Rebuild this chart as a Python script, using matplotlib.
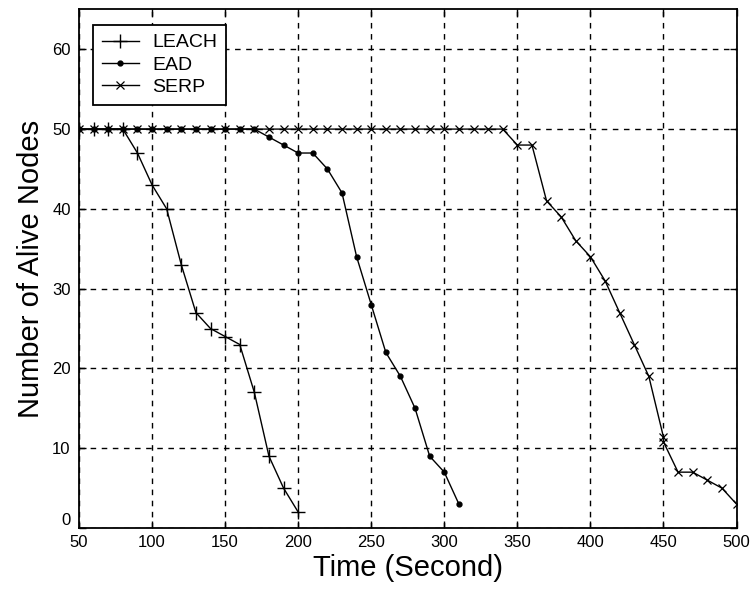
import matplotlib
matplotlib.use("Agg")
import matplotlib.pyplot as plt

plt.rcParams['font.family'] = ['Liberation Sans', 'DejaVu Sans']

leach_t = [50, 60, 70, 80, 90, 100, 110, 120, 130, 140, 150, 160, 170, 180, 190, 200]
leach_n = [50, 50, 50, 50, 47, 43, 40, 33, 27, 25, 24, 23, 17, 9, 5, 2]

ead_t = [50, 60, 70, 80, 90, 100, 110, 120, 130, 140, 150, 160, 170, 180, 190, 200,
         210, 220, 230, 240, 250, 260, 270, 280, 290, 300, 310]
ead_n = [50, 50, 50, 50, 50, 50, 50, 50, 50, 50, 50, 50, 50, 49, 48, 47,
         47, 45, 42, 34, 28, 22, 19, 15, 9, 7, 3]

serp_t = [50, 60, 70, 80, 90, 100, 110, 120, 130, 140, 150, 160, 170, 180, 190, 200,
          210, 220, 230, 240, 250, 260, 270, 280, 290, 300, 310, 320, 330, 340,
          350, 360, 370, 380, 390, 400, 410, 420, 430, 440, 450, 450, 460, 470,
          480, 490, 500]
serp_n = [50] * 30 + [48, 48, 41, 39, 36, 34, 31, 27, 23, 19, 11.4, 10.8, 7, 7,
                      6, 5, 3]

xticks = [50, 100, 150, 200, 250, 300, 350, 400, 450, 500]
yticks = [0, 10, 20, 30, 40, 50, 60]

fig = plt.figure(figsize=(7.51, 5.92), dpi=100)
ax = fig.add_axes([0.1052, 0.1081, 0.8755, 0.876])

ax.plot(leach_t, leach_n, color='black', lw=1.0, marker='+', markersize=10,
        markeredgewidth=1.0, label='LEACH')
ax.plot(ead_t, ead_n, color='black', lw=1.0, marker='.', markersize=7,
        label='EAD')
ax.plot(serp_t, serp_n, color='black', lw=1.0, marker='x', markersize=5.5,
        markeredgewidth=0.9, label='SERP')

ax.set_xlim(50, 500)
ax.set_ylim(0, 65)
ax.set_xticks(xticks)
ax.set_yticks(yticks)
ax.tick_params(direction='in', top=True, right=True, length=5, width=1,
               labelsize=12, colors='black')
ax.tick_params(axis='y', pad=6)
ax.tick_params(axis='x', pad=5)
ax.grid(True, color='black', linestyle=(0, (4, 4)), linewidth=1.0)
for s in ax.spines.values():
    s.set_linewidth(1.3)

ax.set_xlabel('Time (Second)', fontsize=21, labelpad=3)
ax.set_ylabel('Number of Alive Nodes', fontsize=21, labelpad=5)

ax.get_yticklabels()[0].set_verticalalignment('bottom')

leg = ax.legend(loc='upper left', bbox_to_anchor=(0.021, 0.97), fontsize=14,
                fancybox=False, framealpha=1, edgecolor='black',
                borderaxespad=0, handlelength=1.9, handletextpad=0.7,
                borderpad=0.45, labelspacing=0.25)
leg.get_frame().set_linewidth(1.3)

fig.savefig('out.png', dpi=100)
